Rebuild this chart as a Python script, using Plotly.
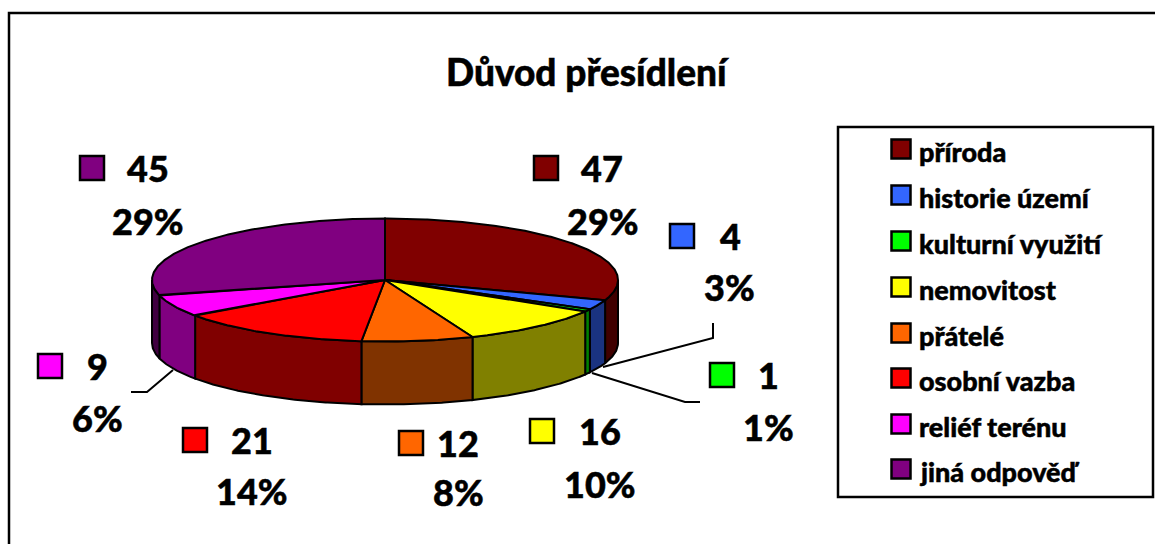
import numpy as np
import plotly.graph_objects as go

categories = ["příroda", "historie území", "kulturní využití", "nemovitost",
              "přátelé", "osobní vazba", "reliéf terénu", "jiná odpověď"]
values = [47, 4, 1, 16, 12, 21, 9, 45]
percent_labels = ["29%", "3%", "1%", "10%", "8%", "14%", "6%", "29%"]
top_colors = ["#800000", "#3366FF", "#00FF00", "#FFFF00", "#FF6600", "#FF0000", "#FF00FF", "#800080"]
side_colors = ["#400000", "#1A3380", "#008000", "#808000", "#803300", "#800000", "#800080", "#400040"]
title_text = "Důvod přesídlení"

W, H = 1155, 544
CX, CY, RX, RY, DEPTH = 385, 280, 233, 61.5, 63
FONT = "Lato"
swatch_xy = [(546, 168), (682, 236), (722, 375), (542, 431), (411, 443), (195, 440), (50, 366), (92, 168)]
number_xy = [(602, 168), (730, 236), (768, 375), (600, 431), (458, 443), (252, 440), (97, 366), (148, 168)]
percent_xy = [(603, 221), (729, 287), (768, 427), (600, 484), (458, 492), (252, 491), (97, 418), (148, 221)]
legend_y = [149, 195, 241, 287, 333, 378, 424, 469]
leaders = [([713, 713, 603], [323, 338, 367]),
           ([700, 685, 592], [402, 402, 373]),
           ([131, 147, 173], [392, 392, 370])]


def rim(a0, a1, dy=0.0):
    t = np.radians(np.linspace(a0, a1, max(2, int(abs(a1 - a0) * 2) + 2)))
    return CX + RX * np.sin(t), CY - RY * np.cos(t) + dy


fig = go.Figure()
edges = np.cumsum([0] + values) / sum(values) * 360
BLACK = dict(color="black", width=2)

# outer wall, only the front half of the ellipse is visible
for i, col in enumerate(side_colors):
    a0, a1 = max(edges[i], 90), min(edges[i + 1], 270)
    if a1 <= a0:
        continue
    x0, y0 = rim(a0, a1)
    x1, y1 = rim(a1, a0, DEPTH)
    fig.add_trace(go.Scatter(x=np.r_[x0, x1, x0[0]], y=np.r_[y0, y1, y0[0]], mode="lines",
                             fill="toself", fillcolor=col, line=BLACK, hoverinfo="skip"))

# top face
for i, col in enumerate(top_colors):
    x, y = rim(edges[i], edges[i + 1])
    fig.add_trace(go.Scatter(x=np.r_[CX, x, CX], y=np.r_[CY, y, CY], mode="lines",
                             fill="toself", fillcolor=col, line=BLACK, hoverinfo="skip"))

# leader lines
for lx, ly in leaders:
    fig.add_trace(go.Scatter(x=lx, y=ly, mode="lines", line=dict(color="black", width=2), hoverinfo="skip"))

# data label keys and legend keys
fig.add_trace(go.Scatter(x=[p[0] for p in swatch_xy], y=[p[1] for p in swatch_xy], mode="markers",
                         marker=dict(symbol="square", size=24, color=top_colors, line=dict(color="black", width=2.5)),
                         hoverinfo="skip"))
fig.add_trace(go.Scatter(x=[901] * 8, y=legend_y, mode="markers",
                         marker=dict(symbol="square", size=19, color=top_colors, line=dict(color="black", width=2.5)),
                         hoverinfo="skip"))

big = dict(size=36, family=FONT, color="black", weight=900)
ann = [dict(x=587, y=71, text=title_text, font=dict(big, size=37))]
for i in range(8):
    ann.append(dict(x=number_xy[i][0], y=number_xy[i][1], text=str(values[i]), font=big))
    ann.append(dict(x=percent_xy[i][0], y=percent_xy[i][1], text=percent_labels[i], font=big))
    ann.append(dict(x=917, y=legend_y[i] + 2, text=categories[i], xanchor="left",
                    font=dict(size=27, family=FONT, color="black", weight=900)))
for a in ann:
    a.update(xref="x", yref="y", showarrow=False, yanchor="middle")
    a.setdefault("xanchor", "center")

fig.update_layout(
    width=W, height=H, margin=dict(l=0, r=0, t=0, b=0), showlegend=False,
    paper_bgcolor="white", plot_bgcolor="white",
    xaxis=dict(range=[0, W], visible=False, fixedrange=True),
    yaxis=dict(range=[H, 0], visible=False, fixedrange=True),
    annotations=ann,
    shapes=[
        dict(type="rect", xref="x", yref="y", x0=9, y0=13, x1=W + 10, y1=H + 10, line=dict(color="black", width=2.5)),
        dict(type="rect", xref="x", yref="y", x0=838, y0=127, x1=1153, y1=497, line=dict(color="black", width=2.5)),
    ],
)
fig.write_html("out.html", config=dict(displayModeBar=False),
               post_script="document.body.style.margin='0';document.body.style.overflow='hidden';"
                           "document.querySelectorAll('.annotation-text').forEach(function(t){"
                           "t.style.stroke='black';t.style.strokeWidth='0.5px';});")
